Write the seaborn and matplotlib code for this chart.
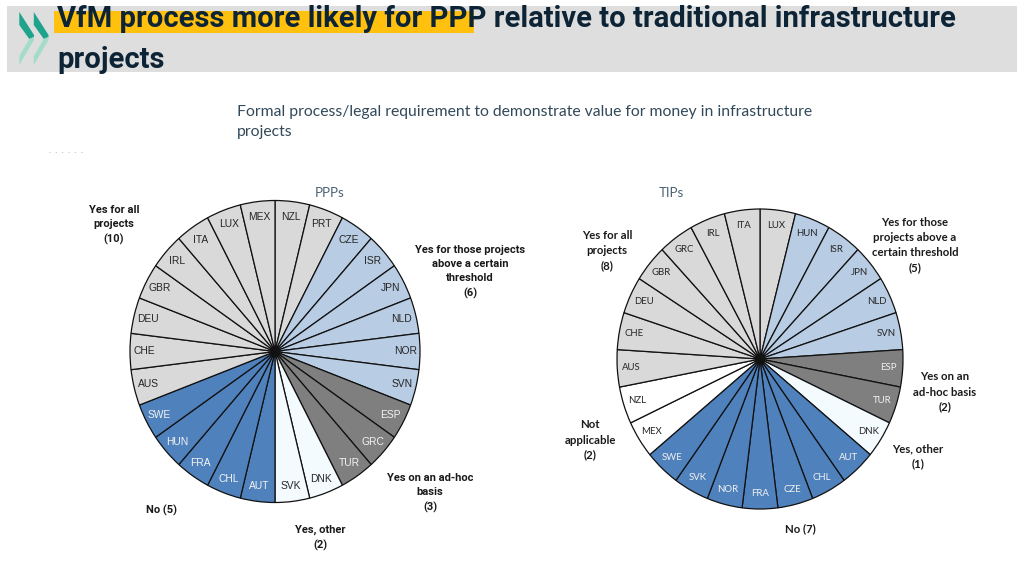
import matplotlib
matplotlib.use("Agg")
import matplotlib.pyplot as plt
import seaborn as sns

# categories, clockwise from 12 o'clock
ppp_labels = ["NZL", "PRT", "CZE", "ISR", "JPN", "NLD", "NOR", "SVN", "ESP", "GRC", "TUR", "DNK", "SVK",
              "AUT", "CHL", "FRA", "HUN", "SWE", "AUS", "CHE", "DEU", "GBR", "IRL", "ITA", "LUX", "MEX"]
ppp_groups = ["all", "all", "above", "above", "above", "above", "above", "above", "adhoc", "adhoc", "adhoc",
              "other", "other", "no", "no", "no", "no", "no", "all", "all", "all", "all", "all", "all", "all", "all"]
ppp_values = [1] * 26

tip_labels = ["LUX", "HUN", "ISR", "JPN", "NLD", "SVN", "ESP", "TUR", "DNK", "AUT", "CHL", "CZE", "FRA",
              "NOR", "SVK", "SWE", "MEX", "NZL", "AUS", "CHE", "DEU", "GBR", "GRC", "IRL", "ITA"]
tip_groups = ["all", "above", "above", "above", "above", "above", "adhoc", "adhoc", "other", "no", "no", "no", "no",
              "no", "no", "no", "na", "na", "all", "all", "all", "all", "all", "all", "all"]
tip_values = [1] * 25

group_colors = {"all": "#d9d9d9", "above": "#b8cce4", "adhoc": "#7f7f7f",
                "other": "#f3fbff", "no": "#4f81bd", "na": "#ffffff"}
white_text = {"adhoc", "no"}

W, H = 1024, 576
sns.set_theme(style="white")
plt.rcParams["font.family"] = ["Liberation Sans", "DejaVu Sans"]

fig = plt.figure(figsize=(W / 100, H / 100), dpi=100, facecolor="white")

# overlay in pixel coordinates for the header and notes
bg = fig.add_axes([0, 0, 1, 1])
bg.set_xlim(0, W)
bg.set_ylim(H, 0)
bg.axis("off")

bg.fill_between([7, 1017], 6, 72, color="#dedede", lw=0)
bg.fill_between([54, 474], 11, 33, color="#ffc00e", lw=0)

for dx in (0, 14.5):
    bg.fill([19.3 + dx, 34 + dx, 34 + dx, 29.3 + dx, 19.3 + dx],
            [12, 35, 37, 39, 25], color="#1ea48c", lw=0)
    bg.fill([19.3 + dx, 29.3 + dx, 34 + dx, 34 + dx, 19.3 + dx],
            [56, 39, 37, 40, 65], color="#a3dccb", lw=0)


def draw_pie(cx, cy, rx, ry, labels, groups, values, font, size):
    pad = 1.03
    ax = fig.add_axes([(cx - rx * pad) / W, 1 - (cy + ry * pad) / H, 2 * rx * pad / W, 2 * ry * pad / H])
    colors = [group_colors[g] for g in groups]
    _, texts = ax.pie(values, labels=labels, colors=colors, startangle=90, counterclock=False,
                      labeldistance=0.9, radius=1,
                      wedgeprops={"edgecolor": "#111111", "linewidth": 0.9})
    ax.set_aspect("auto")
    ax.set_xlim(-pad, pad)
    ax.set_ylim(-pad, pad)
    for t, g in zip(texts, groups):
        t.set_ha("center")
        t.set_va("center")
        t.set_fontfamily(font)
        t.set_fontsize(size)
        t.set_color("#f2f2f2" if g in white_text else "#262626")
    ax.patch.set_alpha(0)
    return ax


draw_pie(275, 351.5, 145, 151, ppp_labels, ppp_groups, ppp_values, "Liberation Sans", 7.4)
draw_pie(760, 359, 143, 150, tip_labels, tip_groups, tip_values, "Lato", 6.9)

# header
bg.text(57, 19, "VfM process more likely for PPP relative to traditional infrastructure", fontsize=21.1,
        fontweight="bold", family="Roboto", color="#0d2436", ha="left", va="center")
bg.text(57, 60, "projects", fontsize=21.1, fontweight="bold", family="Roboto",
        color="#0d2436", ha="left", va="center")

bg.text(237, 112, "Formal process/legal requirement to demonstrate value for money in infrastructure",
        fontsize=11.35, family="Lato", color="#31495a", ha="left", va="center")
bg.text(237, 132, "projects", fontsize=11.35, family="Lato", color="#31495a", ha="left", va="center")

bg.text(330, 193, "PPPs", fontsize=9.5, family="Lato", color="#4a6272", ha="center", va="center")
bg.text(671, 193, "TIPs", fontsize=9.5, family="Lato", color="#4a6272", ha="center", va="center")

# clipped leftover text under the subtitle
bg.text(66, 152, "-   -   -   -   -   -", fontsize=4, color="#8a8a8a", ha="center", va="center")

# group notes, left pie
notes_ppp = [(114, 225, "Yes for all\nprojects\n(10)"),
             (470, 272, "Yes for those projects\nabove a certain\nthreshold\n(6)"),
             (430, 493, "Yes on an ad-hoc\nbasis\n(3)"),
             (161, 510, "No (5)"),
             (320, 538, "Yes, other\n(2)")]
for x, y, s in notes_ppp:
    bg.text(x, y, s, fontsize=8, fontweight="bold", family="Roboto", color="#1a1a1a",
            ha="center", va="center", linespacing=1.5)

# group notes, right pie
notes_tip = [(607, 251, "Yes for all\nprojects\n(8)"),
             (915, 245, "Yes for those\nprojects above a\ncertain threshold\n(5)"),
             (945, 392, "Yes on an\nad-hoc basis\n(2)"),
             (590, 440, "Not\napplicable\n(2)"),
             (918, 456, "Yes, other\n(1)"),
             (800, 529, "No (7)")]
for x, y, s in notes_tip:
    bg.text(x, y, s, fontsize=8.2, fontweight="bold", family="Lato", color="#1a1a1a", ha="center", va="center",
            linespacing=1.45)

fig.savefig("out.png", dpi=100)
